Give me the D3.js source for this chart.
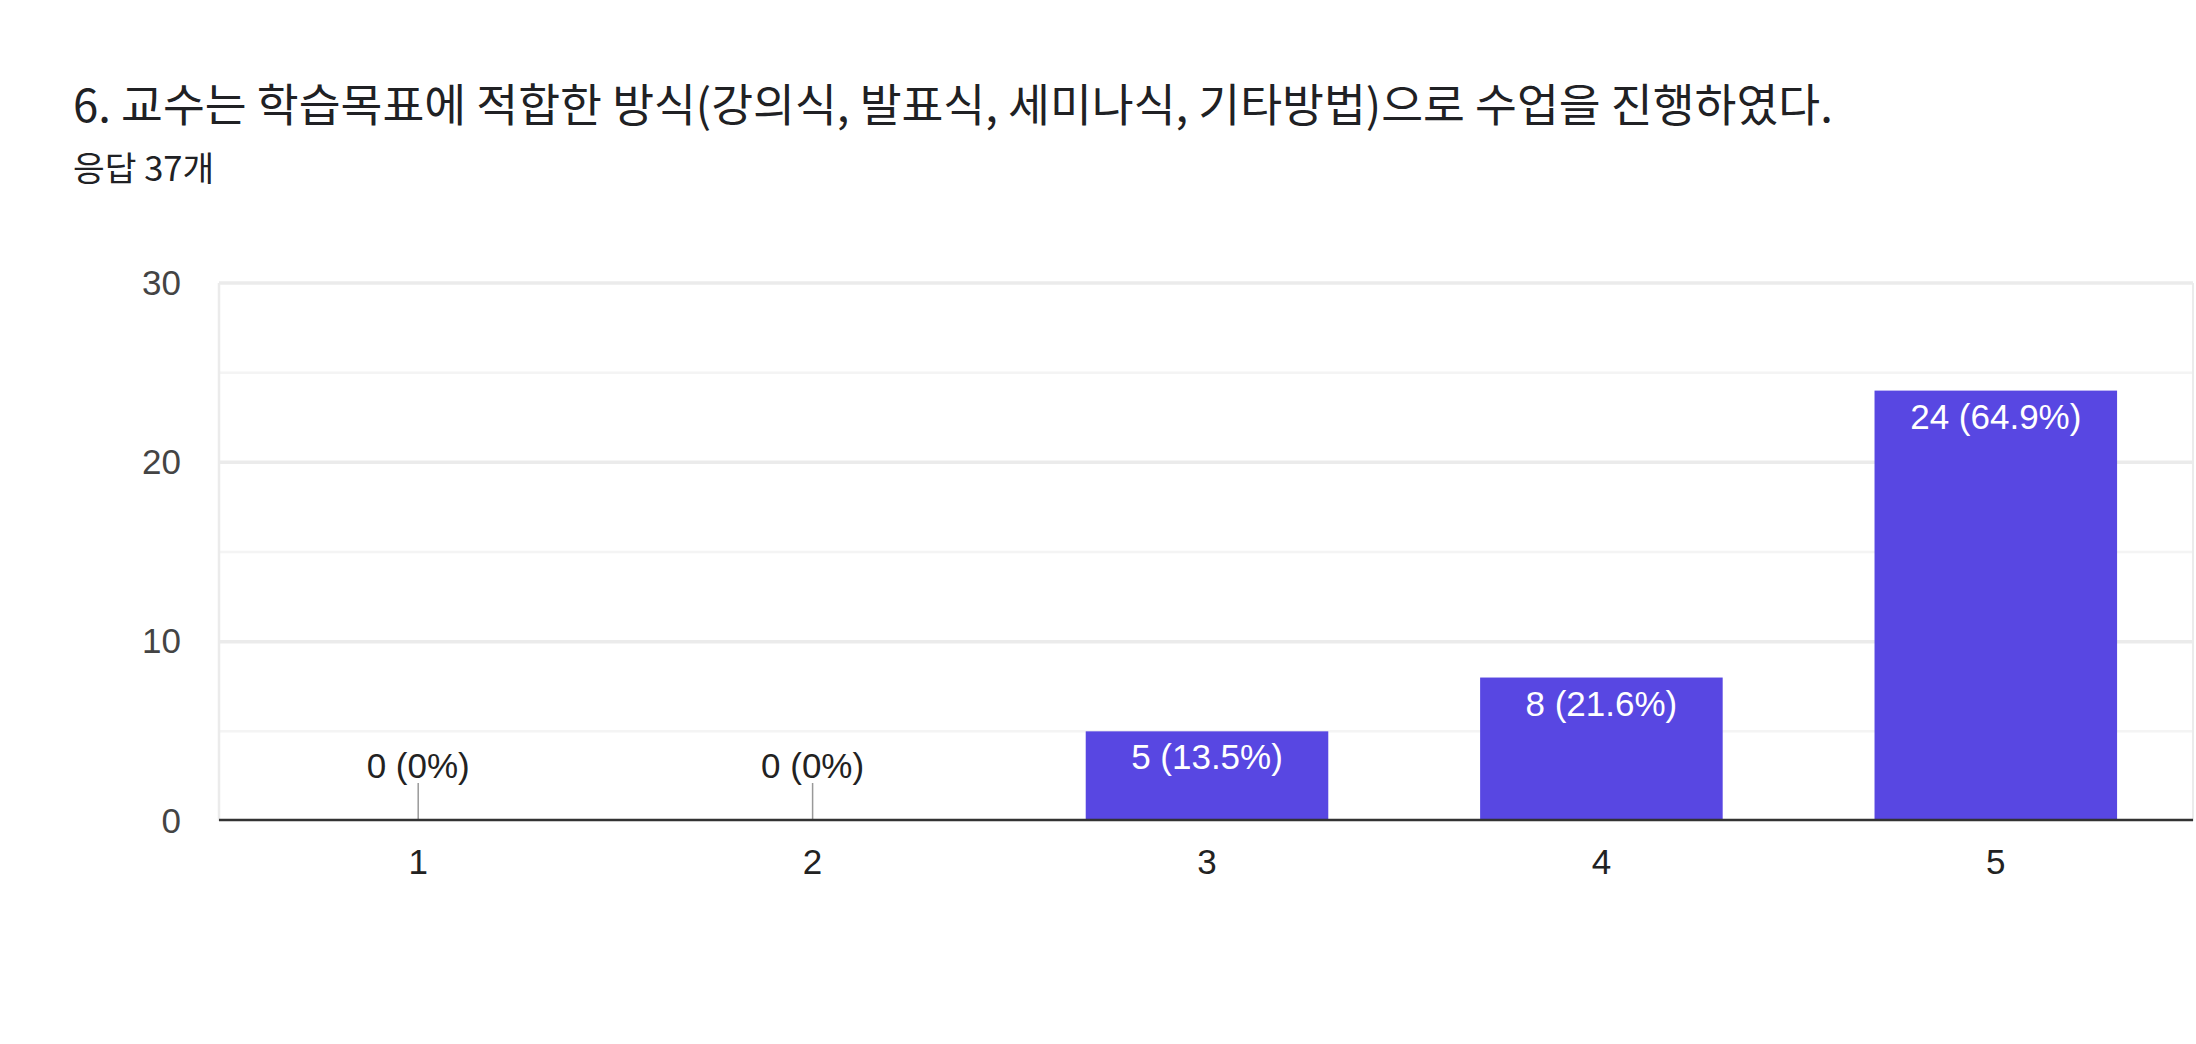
<!DOCTYPE html>
<html>
<head>
<meta charset="utf-8">
<script src="https://cdn.jsdelivr.net/npm/d3@7"></script>
<style>
  html, body { margin: 0; padding: 0; background: #ffffff; }
  svg { display: block; }
</style>
</head>
<body>
<svg id="chart" width="2196" height="1044"></svg>
<script>
// ---- data ----
const titleText = "6. 교수는 학습목표에 적합한 방식(강의식, 발표식, 세미나식, 기타방법)으로 수업을 진행하였다.";
const subtitleText = "응답 37개";
const categories = ["1", "2", "3", "4", "5"];
const counts = [0, 0, 5, 8, 24];
const percents = ["0%", "0%", "13.5%", "21.6%", "64.9%"];
const yTicks = [0, 10, 20, 30];
const yMinorTicks = [5, 15, 25];

// ---- layout ----
const plot = { left: 219, right: 2193, top: 283, bottom: 821 };
const barColor = "#5847e2";
const tickFont = "'Liberation Sans', Arial, sans-serif";
const cjkFont = "'Noto Sans CJK KR', 'Noto Sans', sans-serif";

const svg = d3.select("#chart");
const data = categories.map((c, i) => ({ cat: c, count: counts[i], pct: percents[i] }));

const x = d3.scaleBand().domain(categories).range([plot.left + 2, plot.right])
  .paddingInner(0.385).paddingOuter(0.1925);
const y = d3.scaleLinear().domain([0, 30]).range([plot.bottom, plot.top]);

// title
svg.append("text")
  .attr("x", 73).attr("y", 122)
  .attr("font-family", cjkFont).attr("font-size", 45.5)
  .attr("fill", "#202124")
  .text(titleText);

svg.append("text")
  .attr("x", 73).attr("y", 181)
  .attr("font-family", cjkFont).attr("font-size", 34.5)
  .attr("fill", "#202124")
  .text(subtitleText);

// minor gridlines
svg.append("g").selectAll("line").data(yMinorTicks).join("line")
  .attr("x1", plot.left).attr("x2", plot.right)
  .attr("y1", d => y(d)).attr("y2", d => y(d))
  .attr("stroke", "#f4f4f4").attr("stroke-width", 2.5);

// major gridlines
svg.append("g").selectAll("line").data(yTicks.filter(d => d !== 0)).join("line")
  .attr("x1", plot.left).attr("x2", plot.right)
  .attr("y1", d => y(d)).attr("y2", d => y(d))
  .attr("stroke", "#ebebeb").attr("stroke-width", 3.5);

// plot side borders
svg.append("line")
  .attr("x1", plot.left).attr("x2", plot.left)
  .attr("y1", plot.top).attr("y2", plot.bottom)
  .attr("stroke", "#ebebeb").attr("stroke-width", 2.5);
svg.append("line")
  .attr("x1", plot.right).attr("x2", plot.right)
  .attr("y1", plot.top).attr("y2", plot.bottom)
  .attr("stroke", "#ebebeb").attr("stroke-width", 2);

// y axis labels
const yAxis = d3.axisLeft(y).tickValues(yTicks).tickSize(0).tickPadding(38);
const gy = svg.append("g").attr("transform", `translate(${plot.left},0)`).call(yAxis);
gy.select(".domain").remove();
gy.selectAll("text")
  .attr("font-family", tickFont).attr("font-size", 35)
  .attr("fill", "#444444");

// bars
svg.append("g").selectAll("rect").data(data.filter(d => d.count > 0)).join("rect")
  .attr("x", d => x(d.cat))
  .attr("width", x.bandwidth())
  .attr("y", d => y(d.count))
  .attr("height", d => y(0) - y(d.count))
  .attr("fill", barColor);

// zero stems
svg.append("g").selectAll("line").data(data.filter(d => d.count === 0)).join("line")
  .attr("x1", d => x(d.cat) + x.bandwidth() / 2)
  .attr("x2", d => x(d.cat) + x.bandwidth() / 2)
  .attr("y1", y(0) - 38).attr("y2", y(0))
  .attr("stroke", "#999999").attr("stroke-width", 1.5);

// value labels
svg.append("g").selectAll("text").data(data).join("text")
  .attr("x", d => x(d.cat) + x.bandwidth() / 2)
  .attr("y", d => d.count > 0 ? y(d.count) + 38 : y(0) - 43)
  .attr("text-anchor", "middle")
  .attr("font-family", tickFont).attr("font-size", 35)
  .attr("fill", d => d.count > 0 ? "#ffffff" : "#222222")
  .text(d => `${d.count} (${d.pct})`);

// baseline
svg.append("line")
  .attr("x1", plot.left).attr("x2", plot.right)
  .attr("y1", y(0) - 1).attr("y2", y(0) - 1)
  .attr("stroke", "#333333").attr("stroke-width", 2.5);

// x axis labels
const xAxis = d3.axisBottom(x).tickSize(0).tickPadding(28);
const gx = svg.append("g").attr("transform", `translate(0,${plot.bottom})`).call(xAxis);
gx.select(".domain").remove();
gx.selectAll("text")
  .attr("font-family", tickFont).attr("font-size", 35)
  .attr("fill", "#222222");
</script>
</body>
</html>
